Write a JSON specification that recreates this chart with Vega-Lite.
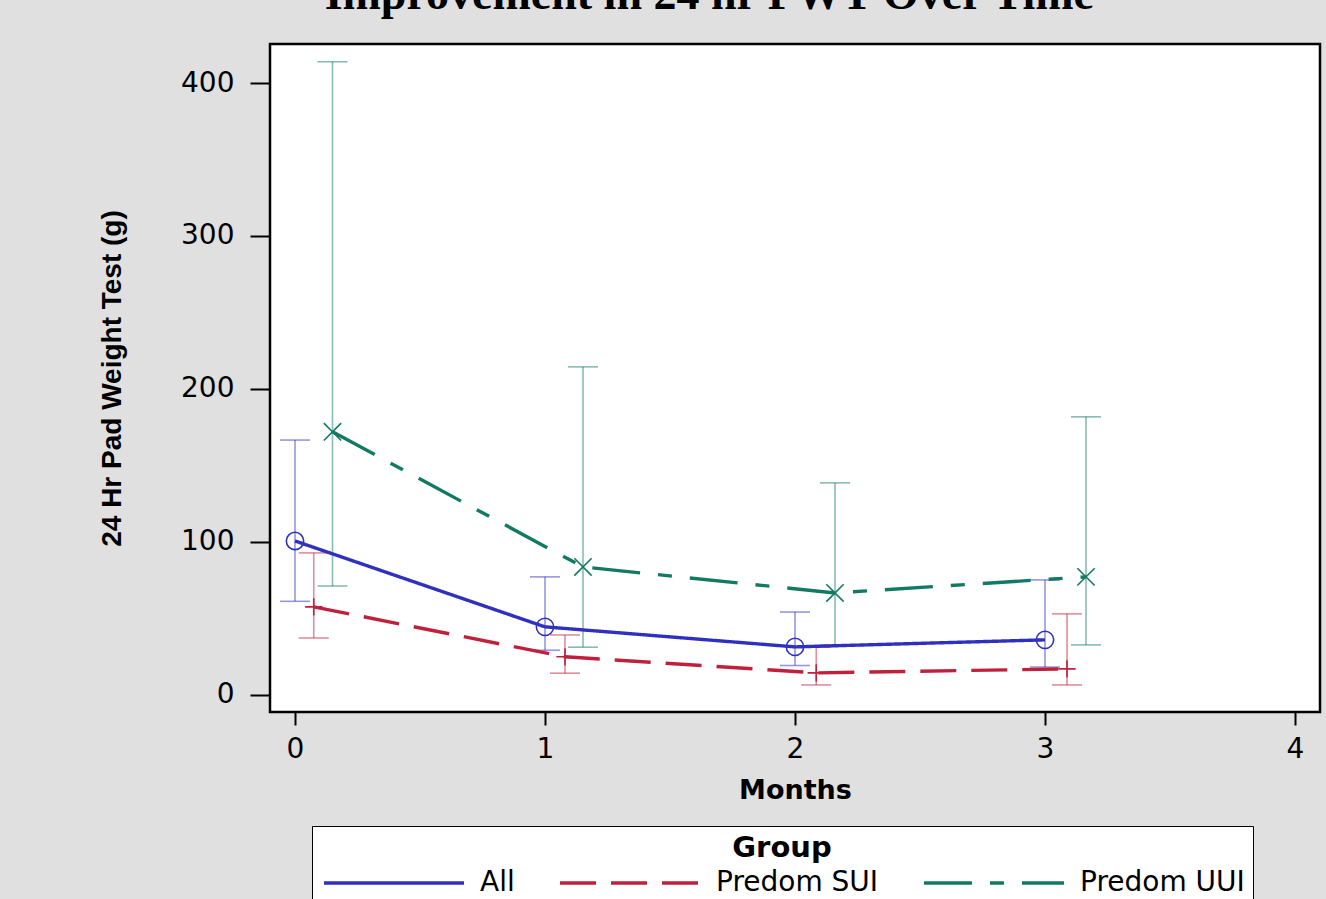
{
  "$schema": "https://vega.github.io/schema/vega-lite/v6.json",
  "width": 1050,
  "height": 668,
  "autosize": {"type": "none"},
  "padding": {"left": 270, "top": 44, "right": 6, "bottom": 187},
  "background": "#e0e0e0",
  "config": {
    "view": {"fill": "white", "stroke": "black", "strokeWidth": 2.5},
    "axis": {"grid": false, "domain": false, "tickColor": "black", "tickWidth": 2, "labelColor": "black", "titleColor": "black", "labelFont": "DejaVu Sans", "labelFontSize": 28}
  },
  "title": {"text": "Improvement in 24 hr PWT Over Time", "font": "Liberation Serif", "fontSize": 46, "fontWeight": "bold", "color": "black", "anchor": "middle", "frame": "bounds", "offset": 25},
  "data": {"values": [
    {"group": "All", "month": 0, "mean": 100.5, "lower": 61, "upper": 166.5},
    {"group": "All", "month": 1, "mean": 44.3, "lower": 29, "upper": 77},
    {"group": "All", "month": 2, "mean": 31.2, "lower": 19, "upper": 54},
    {"group": "All", "month": 3, "mean": 35.8, "lower": 18, "upper": 75},
    {"group": "Predom SUI", "month": 0.075, "mean": 57.4, "lower": 37, "upper": 92.7},
    {"group": "Predom SUI", "month": 1.08, "mean": 24.7, "lower": 14, "upper": 39},
    {"group": "Predom SUI", "month": 2.085, "mean": 14.2, "lower": 6.3, "upper": 31},
    {"group": "Predom SUI", "month": 3.088, "mean": 16.8, "lower": 6.3, "upper": 52.8},
    {"group": "Predom UUI", "month": 0.15, "mean": 171.9, "lower": 71, "upper": 414},
    {"group": "Predom UUI", "month": 1.152, "mean": 83.5, "lower": 31, "upper": 214.4},
    {"group": "Predom UUI", "month": 2.16, "mean": 66.5, "lower": 32.5, "upper": 138.5},
    {"group": "Predom UUI", "month": 3.164, "mean": 77, "lower": 32.5, "upper": 181.7}
  ]},
  "encoding": {
    "x": {"field": "month", "type": "quantitative",
      "scale": {"domain": [-0.1, 4.1], "nice": false, "zero": false},
      "axis": {"values": [0, 1, 2, 3, 4], "format": "d", "tickSize": 13, "labelPadding": 10,
        "title": "Months", "titleFont": "DejaVu Sans", "titleFontSize": 27, "titleFontWeight": "bold", "titlePadding": 14}},
    "color": {"field": "group", "type": "nominal", "title": "Group",
      "scale": {"domain": ["All", "Predom SUI", "Predom UUI"], "range": ["#3030c0", "#c0203c", "#127a62"]},
      "legend": {"orient": "none", "legendX": 42, "legendY": 782, "direction": "horizontal", "columns": 3,
        "titleAnchor": "middle", "titleFont": "DejaVu Sans", "titleFontSize": 29, "titleFontWeight": "bold", "titleColor": "black", "titlePadding": 6,
        "labelFont": "DejaVu Sans", "labelFontSize": 28, "labelColor": "black", "labelOffset": 132, "labelLimit": 400,
        "symbolType": "M-1,0L13,0", "symbolSize": 400, "symbolStrokeWidth": 3.5, "columnPadding": 38,
        "fillColor": "white", "strokeColor": "black", "padding": 8,
        "encode": {"symbols": {"update": {
          "opacity": {"value": 1},
          "strokeWidth": {"value": 3.5},
          "fill": {"value": "transparent"}
        }}}}}
  },
  "layer": [
    {
      "mark": {"type": "rule", "strokeWidth": 1.6, "opacity": 0.5},
      "encoding": {
        "y": {"field": "lower", "type": "quantitative",
          "scale": {"domain": [-11.4, 425.6], "nice": false, "zero": false},
          "axis": {"values": [0, 100, 200, 300, 400], "tickSize": 20, "labelPadding": 16,
            "title": "24 Hr Pad Weight Test (g)", "titleFont": "Liberation Sans", "titleFontSize": 28, "titleFontWeight": "bold", "titlePadding": 54}},
        "y2": {"field": "upper"}
      }
    },
    {
      "mark": {"type": "tick", "orient": "horizontal", "size": 30, "thickness": 1.6, "opacity": 0.5},
      "encoding": {
        "y": {"field": "upper", "type": "quantitative"}
      }
    },
    {
      "mark": {"type": "tick", "orient": "horizontal", "size": 30, "thickness": 1.6, "opacity": 0.5},
      "encoding": {
        "y": {"field": "lower", "type": "quantitative"}
      }
    },
    {
      "mark": {"type": "point", "filled": false, "strokeWidth": 1.6, "size": 300, "opacity": 1},
      "encoding": {
        "y": {"field": "mean", "type": "quantitative"},
        "shape": {"field": "group", "type": "nominal", "scale": {"range": ["circle", "M-1,0L1,0M0,-1L0,1", "M-1,-1L1,1M-1,1L1,-1"]}, "legend": null}
      }
    },
    {
      "mark": {"type": "line", "strokeWidth": 3.4},
      "encoding": {
        "y": {"field": "mean", "type": "quantitative"},
        "strokeDash": {"field": "group", "type": "nominal", "title": "Group",
          "scale": {"domain": ["All", "Predom SUI", "Predom UUI"], "range": [[1, 0], [36, 15], [48, 18, 14, 18]]}}
      }
    }
  ]
}
